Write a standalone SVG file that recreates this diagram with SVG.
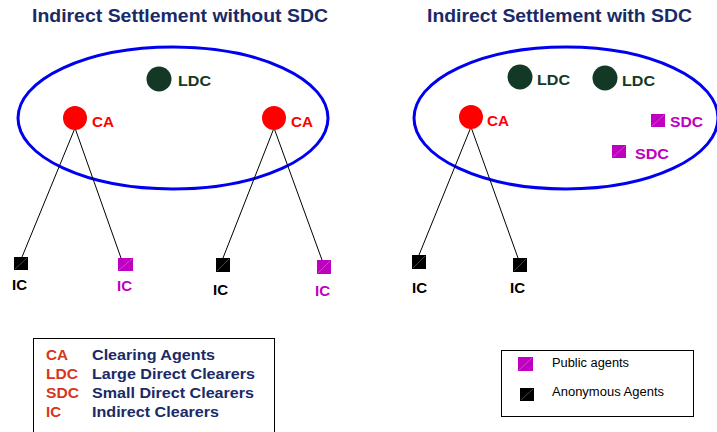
<svg xmlns="http://www.w3.org/2000/svg" width="717" height="432" viewBox="0 0 717 432">
<style>
text{font-family:"Liberation Sans",Arial,sans-serif;font-weight:bold}
.title{font-size:18px;fill:#1A2A66}
.ell{fill:none;stroke:#0000F0;stroke-width:3}
.ldc{fill:#133826}
.ldct{font-size:15px;fill:#133826}
.ca{fill:#FF0000}
.cat{font-size:15px;fill:#FF0000}
.pub{fill:#C000C0}
.pubt{font-size:15px;fill:#C000C0}
.anon{fill:#000}
.anont{font-size:15px;fill:#000}
.diag{stroke:#ffffff;stroke-opacity:0.45;stroke-width:0.6}
.conn{stroke:#000;stroke-width:1;fill:none}
.leg{fill:#fff;stroke:#000;stroke-width:1}
.lk{font-size:15px;fill:#D8361C}
.lv{font-size:15px;fill:#1A2A66}
.small{font-size:12px;font-weight:normal;fill:#000}
</style>
<rect width="717" height="432" fill="#fff"/>
<text class="title" x="32" y="22" textLength="296" lengthAdjust="spacingAndGlyphs">Indirect Settlement without SDC</text>
<text class="title" x="427" y="22" textLength="265" lengthAdjust="spacingAndGlyphs">Indirect Settlement with SDC</text>
<ellipse class="ell" cx="173" cy="118" rx="155" ry="71"/>
<ellipse class="ell" cx="566" cy="118" rx="152" ry="71"/>
<g id="connectors">
<line class="conn" x1="75" y1="128" x2="22" y2="257"/>
<line class="conn" x1="75" y1="128" x2="121" y2="258"/>
<line class="conn" x1="274" y1="128" x2="223" y2="258"/>
<line class="conn" x1="274" y1="128" x2="322" y2="260"/>
<line class="conn" x1="471" y1="127" x2="419" y2="255"/>
<line class="conn" x1="471" y1="127" x2="518" y2="258"/>
</g>
<g id="ldc1"><circle class="ldc" cx="159" cy="79" r="12.5"/><text class="ldct" x="178" y="86" textLength="33" lengthAdjust="spacingAndGlyphs">LDC</text></g>
<g id="ca1"><circle class="ca" cx="75" cy="118" r="12"/><text class="cat" x="92" y="127" textLength="22" lengthAdjust="spacingAndGlyphs">CA</text></g>
<g id="ca2"><circle class="ca" cx="274" cy="118" r="12"/><text class="cat" x="291" y="127" textLength="22" lengthAdjust="spacingAndGlyphs">CA</text></g>
<g id="ic1"><rect class="anon" x="14" y="257" width="14" height="13"/><line class="diag" x1="15" y1="269" x2="27" y2="258"/><text class="anont" x="12" y="290" textLength="15" lengthAdjust="spacingAndGlyphs">IC</text></g>
<g id="ic2"><rect class="pub" x="118" y="258" width="15" height="13"/><line class="diag" x1="119" y1="270" x2="132" y2="259"/><text class="pubt" x="117" y="291" textLength="15" lengthAdjust="spacingAndGlyphs">IC</text></g>
<g id="ic3"><rect class="anon" x="216" y="258" width="14" height="14"/><line class="diag" x1="217" y1="271" x2="229" y2="259"/><text class="anont" x="213" y="295" textLength="15" lengthAdjust="spacingAndGlyphs">IC</text></g>
<g id="ic4"><rect class="pub" x="317" y="260" width="14" height="14"/><line class="diag" x1="318" y1="273" x2="330" y2="261"/><text class="pubt" x="315" y="296" textLength="15" lengthAdjust="spacingAndGlyphs">IC</text></g>
<g id="ldc2"><circle class="ldc" cx="520" cy="77" r="12.5"/><text class="ldct" x="537" y="85" textLength="33" lengthAdjust="spacingAndGlyphs">LDC</text></g>
<g id="ldc3"><circle class="ldc" cx="605" cy="78" r="12.5"/><text class="ldct" x="622" y="86" textLength="33" lengthAdjust="spacingAndGlyphs">LDC</text></g>
<g id="ca3"><circle class="ca" cx="471" cy="117" r="12"/><text class="cat" x="487" y="126" textLength="22" lengthAdjust="spacingAndGlyphs">CA</text></g>
<g id="sdc1"><rect class="pub" x="651" y="114" width="14" height="13"/><line class="diag" x1="652" y1="126" x2="664" y2="115"/><text class="pubt" x="670" y="127" textLength="33" lengthAdjust="spacingAndGlyphs">SDC</text></g>
<g id="sdc2"><rect class="pub" x="612" y="145" width="14" height="13"/><line class="diag" x1="613" y1="157" x2="625" y2="146"/><text class="pubt" x="635" y="159" textLength="34" lengthAdjust="spacingAndGlyphs">SDC</text></g>
<g id="ic5"><rect class="anon" x="412" y="255" width="14" height="14"/><line class="diag" x1="413" y1="268" x2="425" y2="256"/><text class="anont" x="412" y="293" textLength="15" lengthAdjust="spacingAndGlyphs">IC</text></g>
<g id="ic6"><rect class="anon" x="513" y="258" width="14" height="14"/><line class="diag" x1="514" y1="271" x2="526" y2="259"/><text class="anont" x="510" y="293" textLength="15" lengthAdjust="spacingAndGlyphs">IC</text></g>
<g id="legend1">
<rect class="leg" x="33.5" y="338.5" width="241" height="100"/>
<text class="lk" x="46" y="360" textLength="22" lengthAdjust="spacingAndGlyphs">CA</text><text class="lv" x="92" y="360" textLength="123" lengthAdjust="spacingAndGlyphs">Clearing Agents</text>
<text class="lk" x="46" y="379" textLength="32" lengthAdjust="spacingAndGlyphs">LDC</text><text class="lv" x="92" y="379" textLength="163" lengthAdjust="spacingAndGlyphs">Large Direct Clearers</text>
<text class="lk" x="46" y="398" textLength="33" lengthAdjust="spacingAndGlyphs">SDC</text><text class="lv" x="92" y="398" textLength="162" lengthAdjust="spacingAndGlyphs">Small Direct Clearers</text>
<text class="lk" x="46" y="417" textLength="15" lengthAdjust="spacingAndGlyphs">IC</text><text class="lv" x="92" y="417" textLength="127" lengthAdjust="spacingAndGlyphs">Indirect Clearers</text>
</g>
<g id="legend2">
<rect class="leg" x="501.5" y="350.5" width="192" height="66"/>
<rect class="pub" x="518" y="357" width="15" height="14"/><line class="diag" x1="519" y1="370" x2="532" y2="358"/>
<text class="small" x="552" y="367" textLength="77" lengthAdjust="spacingAndGlyphs">Public agents</text>
<rect class="anon" x="520" y="388" width="14" height="13"/><line class="diag" x1="521" y1="400" x2="533" y2="389"/>
<text class="small" x="552" y="396" textLength="112" lengthAdjust="spacingAndGlyphs">Anonymous Agents</text>
</g>
</svg>
